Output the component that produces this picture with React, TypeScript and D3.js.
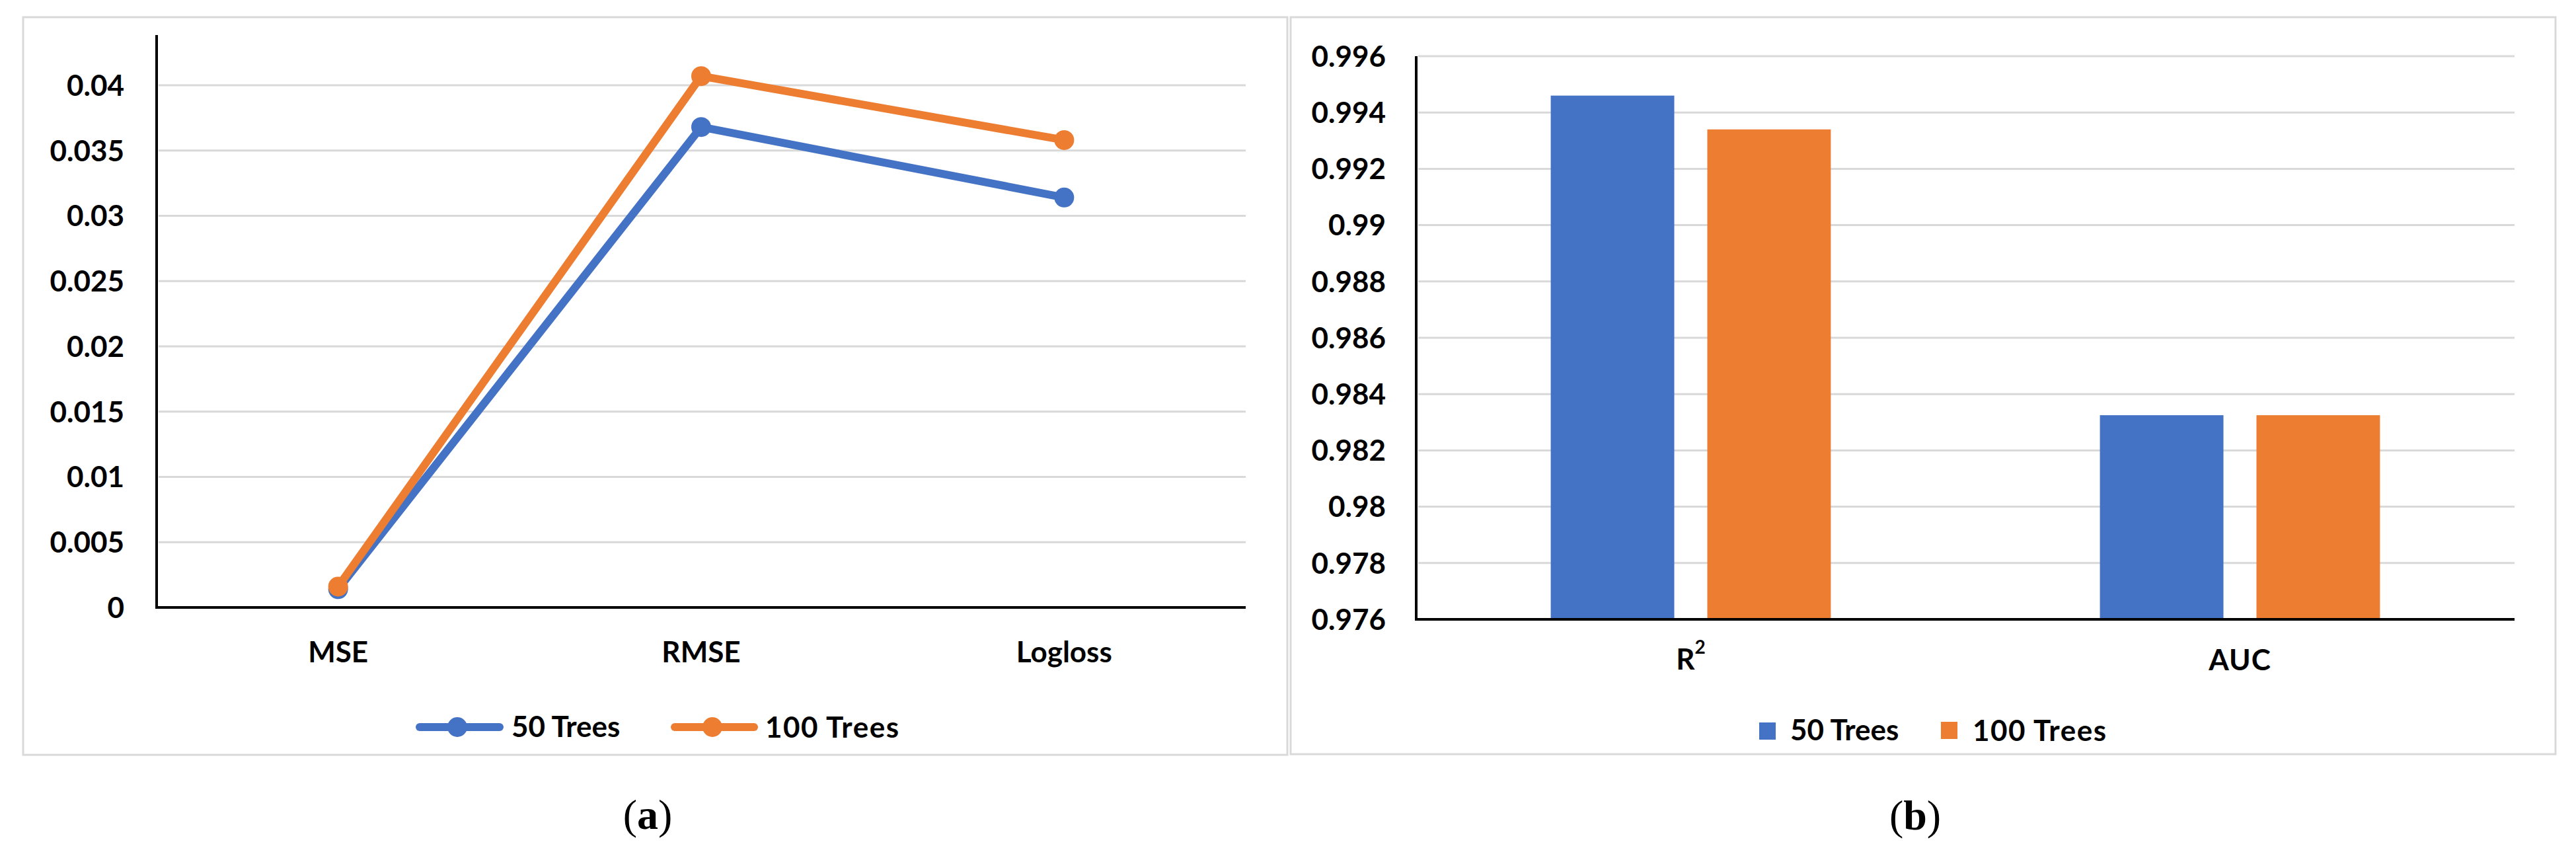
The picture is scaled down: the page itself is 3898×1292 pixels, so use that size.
import React from "react";
import * as d3 from "d3";

const catsA = ["MSE", "RMSE", "Logloss"];
const trees50A = [0.0014, 0.0368, 0.0314];
const trees100A = [0.0016, 0.0407, 0.0358];
const ticksA = [0, 0.005, 0.01, 0.015, 0.02, 0.025, 0.03, 0.035, 0.04];
const tickLabelsA = ["0", "0.005", "0.01", "0.015", "0.02", "0.025", "0.03", "0.035", "0.04"];

const catsB = ["R2", "AUC"];
const trees50B = [0.9946, 0.98325];
const trees100B = [0.9934, 0.98325];
const ticksB = [0.976, 0.978, 0.98, 0.982, 0.984, 0.986, 0.988, 0.99, 0.992, 0.994, 0.996];
const tickLabelsB = ["0.976", "0.978", "0.98", "0.982", "0.984", "0.986", "0.988", "0.99", "0.992", "0.994", "0.996"];

const seriesNames = ["50 Trees", "100 Trees"];
const BLUE = "#4472C4";
const ORANGE = "#ED7D31";
const GRID = "#d9d9d9";
const FONT = "Lato, 'Open Sans', sans-serif";

export default function App() {
  // Panel A
  const yA = d3.scaleLinear().domain([0, 0.04]).range([919, 129]);
  const xA = d3.scalePoint<string>().domain(catsA).range([237, 1885]).padding(0.5);
  const lineA = d3
    .line<number>()
    .x((_, i) => xA(catsA[i]) as number)
    .y((d) => yA(d));

  // Panel B
  const yB = d3.scaleLinear().domain([0.976, 0.996]).range([937, 85]);
  const xB = d3
    .scaleBand<string>()
    .domain(catsB)
    .range([2143, 3805])
    .paddingInner(0.49)
    .paddingOuter(0.245);
  const x1 = d3
    .scaleBand<string>()
    .domain(seriesNames)
    .range([0, xB.bandwidth()])
    .paddingInner(0.211);

  const seriesA = [
    { name: seriesNames[0], vals: trees50A, color: BLUE },
    { name: seriesNames[1], vals: trees100A, color: ORANGE },
  ];
  const seriesB = [
    { name: seriesNames[0], vals: trees50B, color: BLUE },
    { name: seriesNames[1], vals: trees100B, color: ORANGE },
  ];

  const txt = { fontFamily: FONT, fontWeight: 700, fontSize: 44, fill: "#000" } as const;

  return (
    <svg
      width={3898}
      height={1292}
      style={{ position: "absolute", left: 0, top: 0, background: "#fff" }}
    >
      <rect x={0} y={0} width={3898} height={1292} fill="#fff" />
      {/* Panel borders */}
      <rect x={35} y={26} width={1913} height={1116} fill="#fff" stroke={GRID} strokeWidth={3} />
      <rect x={1953} y={26} width={1914} height={1115} fill="#fff" stroke={GRID} strokeWidth={3} />

      {/* ---------- Panel A ---------- */}
      {ticksA.map((t, i) =>
        i === 0 ? null : (
          <line key={"ga" + i} x1={240} x2={1885} y1={yA(t)} y2={yA(t)} stroke={GRID} strokeWidth={3} />
        )
      )}
      {ticksA.map((t, i) => (
        <text key={"ta" + i} x={188} y={yA(t)} dy="0.36em" textAnchor="end" {...txt}>
          {tickLabelsA[i]}
        </text>
      ))}
      <line x1={237} x2={237} y1={53} y2={yA(0)} stroke="#000" strokeWidth={4} />
      <line x1={235} x2={1885} y1={yA(0)} y2={yA(0)} stroke="#000" strokeWidth={4} />
      {catsA.map((c, i) => (
        <text key={"ca" + i} x={xA(c)} y={1002} textAnchor="middle" {...txt}>
          {c}
        </text>
      ))}
      {seriesA.map((s) => (
        <g key={"sa" + s.name}>
          <path
            d={lineA(s.vals) || ""}
            fill="none"
            stroke={s.color}
            strokeWidth={12}
            strokeLinejoin="round"
            strokeLinecap="round"
          />
          {s.vals.map((v, i) => (
            <circle key={i} cx={xA(catsA[i])} cy={yA(v)} r={15} fill={s.color} />
          ))}
        </g>
      ))}
      {/* Legend A */}
      <g>
        <line x1={635} x2={756} y1={1100} y2={1100} stroke={BLUE} strokeWidth={12} strokeLinecap="round" />
        <circle cx={692} cy={1100} r={15} fill={BLUE} />
        <text x={774} y={1115} {...txt}>
          {seriesNames[0]}
        </text>
        <line x1={1021} x2={1141} y1={1100} y2={1100} stroke={ORANGE} strokeWidth={12} strokeLinecap="round" />
        <circle cx={1078} cy={1100} r={15} fill={ORANGE} />
        <text x={1158} y={1116} letterSpacing={1.5} {...txt}>
          {seriesNames[1]}
        </text>
      </g>

      {/* ---------- Panel B ---------- */}
      {ticksB.map((t, i) =>
        i === 0 ? null : (
          <line key={"gb" + i} x1={2146} x2={3805} y1={yB(t)} y2={yB(t)} stroke={GRID} strokeWidth={3} />
        )
      )}
      {ticksB.map((t, i) => (
        <text key={"tb" + i} x={2097} y={yB(t)} dy="0.36em" textAnchor="end" {...txt}>
          {tickLabelsB[i]}
        </text>
      ))}
      {catsB.map((c, ci) =>
        seriesB.map((s) => (
          <rect
            key={c + s.name}
            x={(xB(c) as number) + (x1(s.name) as number)}
            y={yB(s.vals[ci])}
            width={x1.bandwidth()}
            height={yB(0.976) - yB(s.vals[ci])}
            fill={s.color}
          />
        ))
      )}
      <line x1={2143} x2={2143} y1={yB(0.996)} y2={yB(0.976)} stroke="#000" strokeWidth={4} />
      <line x1={2141} x2={3805} y1={yB(0.976)} y2={yB(0.976)} stroke="#000" strokeWidth={4} />
      <text x={(xB("R2") as number) + xB.bandwidth() / 2} y={1013} textAnchor="middle" {...txt}>
        R
        <tspan dy={-24} fontSize={28}>
          2
        </tspan>
      </text>
      <text x={(xB("AUC") as number) + xB.bandwidth() / 2} y={1014} textAnchor="middle" letterSpacing={1} {...txt}>
        AUC
      </text>
      {/* Legend B */}
      <rect x={2662} y={1093} width={25} height={26} fill={BLUE} />
      <text x={2709} y={1120} {...txt}>
        {seriesNames[0]}
      </text>
      <rect x={2937} y={1092} width={25} height={26} fill={ORANGE} />
      <text x={2985} y={1121} letterSpacing={1.5} {...txt}>
        {seriesNames[1]}
      </text>

      {/* Sub-captions */}
      <text x={980} y={1254} textAnchor="middle" fontFamily="'Liberation Serif', 'DejaVu Serif', serif" fontSize={64} fill="#000">
        (<tspan fontWeight={700}>a</tspan>)
      </text>
      <text x={2898} y={1255} textAnchor="middle" fontFamily="'Liberation Serif', 'DejaVu Serif', serif" fontSize={64} fill="#000">
        (<tspan fontWeight={700}>b</tspan>)
      </text>
    </svg>
  );
}
